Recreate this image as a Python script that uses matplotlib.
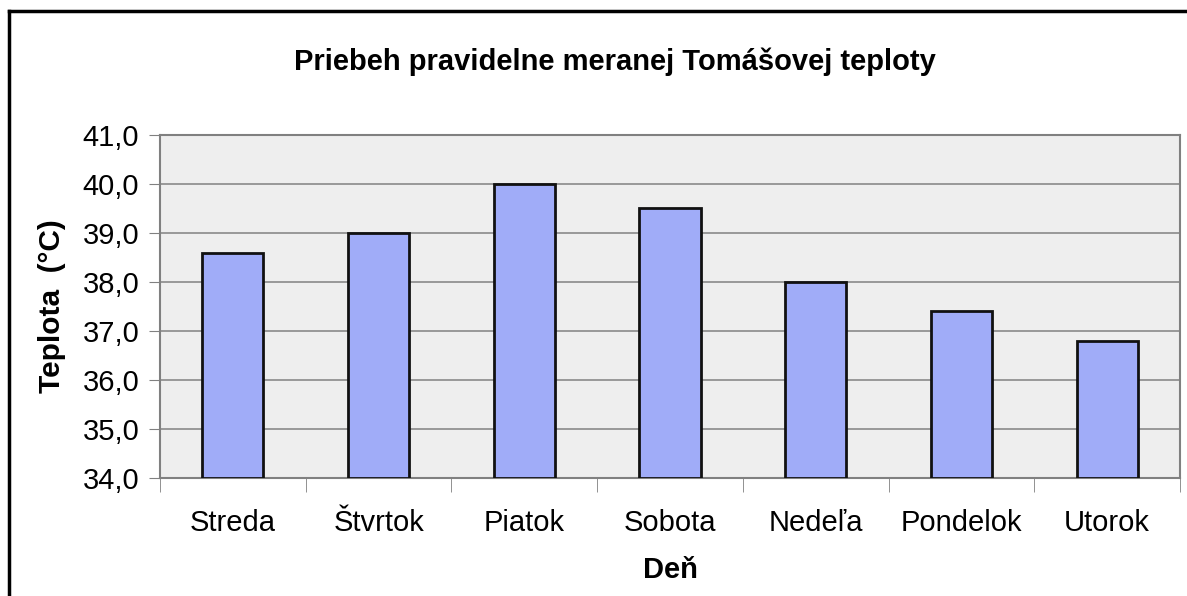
import matplotlib.pyplot as plt
from matplotlib.lines import Line2D

days = ["Streda", "Štvrtok", "Piatok", "Sobota", "Nedeľa", "Pondelok", "Utorok"]
temps = [38.6, 39.0, 40.0, 39.5, 38.0, 37.4, 36.8]
yticks = [34.0, 35.0, 36.0, 37.0, 38.0, 39.0, 40.0, 41.0]

plt.rcParams["font.family"] = ["Liberation Sans", "DejaVu Sans"]

fig = plt.figure(figsize=(11.87, 5.96), dpi=100)
ax = fig.add_axes([160 / 1187, 1 - 478 / 596, 1020 / 1187, 343 / 596])
ax.set_facecolor("#eeeeee")

x = range(len(days))
ax.bar(x, [t - 34.0 for t in temps], bottom=34.0, width=0.42,
       color="#a0acf8", edgecolor="#111111", linewidth=2, zorder=3)

ax.set_xlim(-0.5, len(days) - 0.5)
ax.set_ylim(34.0, 41.0)
ax.set_yticks(yticks)
ax.set_yticklabels([f"{v:.1f}".replace(".", ",") for v in yticks], fontsize=21)
ax.set_xticks(list(x))
ax.set_xticklabels(days, fontsize=21)
ax.tick_params(axis="x", length=0, pad=22)
ax.tick_params(axis="y", length=8, color="#808080", pad=7)
ax.set_xticks([i + 0.5 for i in range(-1, len(days))], minor=True)
ax.tick_params(axis="x", which="minor", length=10, color="#808080", direction="out")
ax.grid(axis="y", color="#8a8a8a", linewidth=1.2, zorder=1)

for s in ax.spines.values():
    s.set_color("#808080")
    s.set_linewidth(1.5)

ax.set_ylabel("Teplota  (°C)", fontsize=21.5, fontweight="bold", labelpad=12)
ax.set_xlabel("Deň", fontsize=21, fontweight="bold", labelpad=14)
fig.text(615 / 1187, 1 - 62 / 596, "Priebeh pravidelne meranej Tomášovej teploty",
         ha="center", va="center", fontsize=21, fontweight="bold")

# frame around the chart (left and top edges visible)
fig.add_artist(Line2D([9 / 1187, 9 / 1187], [0, 1 - 11 / 596], color="black", lw=2.5))
fig.add_artist(Line2D([9 / 1187, 1], [1 - 11 / 596, 1 - 11 / 596], color="black", lw=2.5))

fig.savefig("out.png", dpi=100)
